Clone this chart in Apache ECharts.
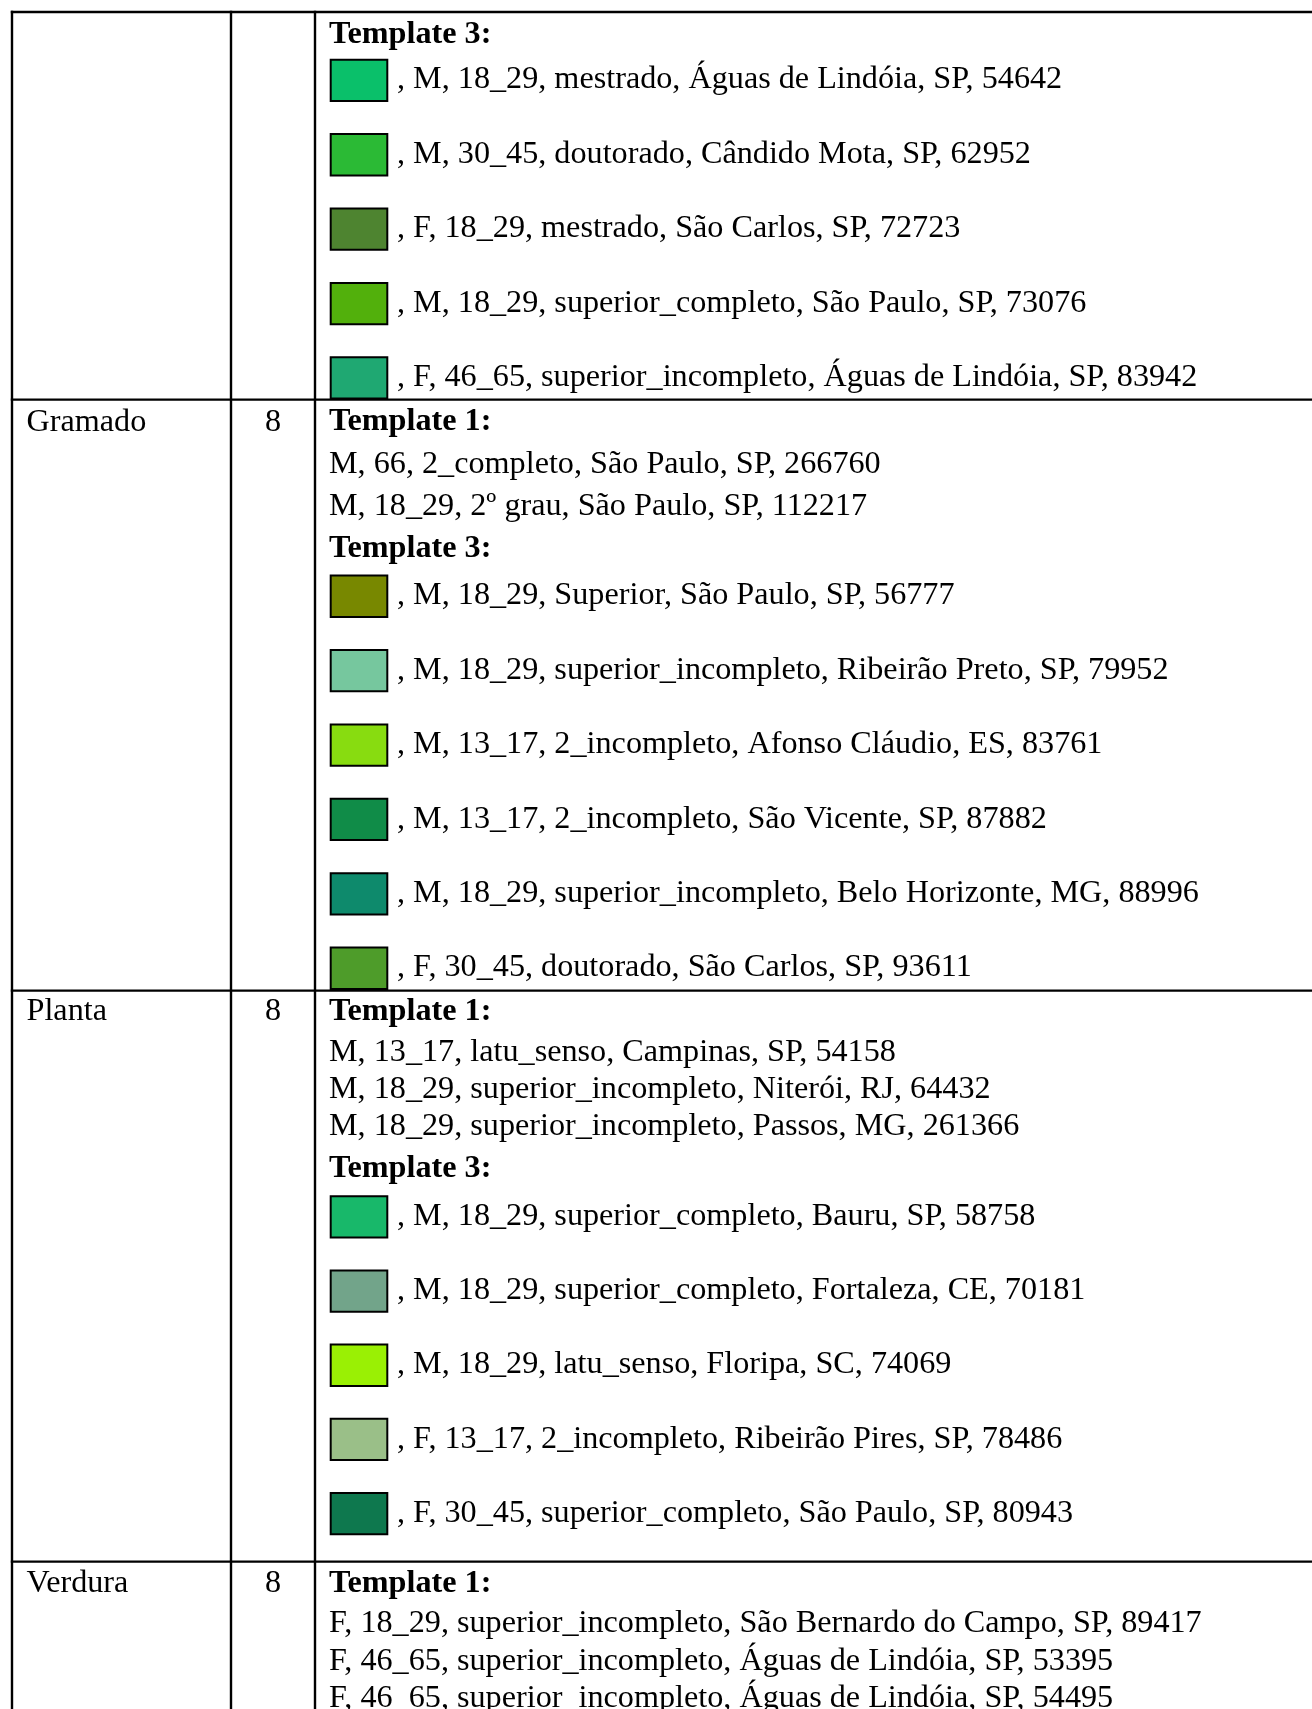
<!DOCTYPE html>
<html><head><meta charset="utf-8">
<script src="https://cdn.jsdelivr.net/npm/echarts@6/dist/echarts.min.js"></script>
<style>html,body{margin:0;padding:0;background:#fff;overflow:hidden}#c{width:1312px;height:1709px}</style>
</head><body><div id="c"></div>
<script>
// ---------------- data ----------------
const rowNames = ['', 'Gramado', 'Planta', 'Verdura'];
const rowCounts = ['', '8', '8', '8'];
const headerT1 = 'Template 1:';
const headerT3 = 'Template 3:';
const template1Rows = [
  [],
  ['M, 66, 2_completo, São Paulo, SP, 266760',
   'M, 18_29, 2º grau, São Paulo, SP, 112217'],
  ['M, 13_17, latu_senso, Campinas, SP, 54158',
   'M, 18_29, superior_incompleto, Niterói, RJ, 64432',
   'M, 18_29, superior_incompleto, Passos, MG, 261366'],
  ['F, 18_29, superior_incompleto, São Bernardo do Campo, SP, 89417',
   'F, 46_65, superior_incompleto, Águas de Lindóia, SP, 53395',
   'F, 46_65, superior_incompleto, Águas de Lindóia, SP, 54495']
];
const template3Rows = [
  [', M, 18_29, mestrado, Águas de Lindóia, SP, 54642',
   ', M, 30_45, doutorado, Cândido Mota, SP, 62952',
   ', F, 18_29, mestrado, São Carlos, SP, 72723',
   ', M, 18_29, superior_completo, São Paulo, SP, 73076',
   ', F, 46_65, superior_incompleto, Águas de Lindóia, SP, 83942'],
  [', M, 18_29, Superior, São Paulo, SP, 56777',
   ', M, 18_29, superior_incompleto, Ribeirão Preto, SP, 79952',
   ', M, 13_17, 2_incompleto, Afonso Cláudio, ES, 83761',
   ', M, 13_17, 2_incompleto, São Vicente, SP, 87882',
   ', M, 18_29, superior_incompleto, Belo Horizonte, MG, 88996',
   ', F, 30_45, doutorado, São Carlos, SP, 93611'],
  [', M, 18_29, superior_completo, Bauru, SP, 58758',
   ', M, 18_29, superior_completo, Fortaleza, CE, 70181',
   ', M, 18_29, latu_senso, Floripa, SC, 74069',
   ', F, 13_17, 2_incompleto, Ribeirão Pires, SP, 78486',
   ', F, 30_45, superior_completo, São Paulo, SP, 80943'],
  []
];
const template3Colors = [
  ['#0ac06a', '#2bba35', '#4e8430', '#52b00c', '#1fa872'],
  ['#788800', '#76c79e', '#88dc10', '#108c48', '#0e8a6c', '#4e9c2a'],
  ['#18b86a', '#72a48a', '#9af004', '#9abf88', '#0e784e'],
  []
];

// ---------------- layout constants ----------------
const W = 1312, H = 1709;
const FONT_FAMILY = '"Liberation Serif", "Times New Roman", Times, serif';
const FS = 32.2;
const MID = 8; // baseline -> middle offset
const RULE_W = 2.4;
const TABLE = { left: 12, col1: 231, col2: 315, right: 1340, top: 12, bottom: H + 20 };
const TX = { name: 26.5, count: 273, body: 329, swatch: 329.7, swatchText: 397 };
const SW = { w: 58.6, h: 43.3, text: 29.3, line: 2 };
const rhythm = [
  { head: 30.3, t1First: 0, t1Gap: 0, t3Head: 0, swFirst: 16.4, swGap: 74.4, bottom: 0 },
  { head: 30.5, t1First: 42, t1Gap: 42, t3Head: 43, swFirst: 17.5, swGap: 74.4, bottom: 0.7 },
  { head: 29, t1First: 41.4, t1Gap: 36.6, t3Head: 42.8, swFirst: 18.2, swGap: 74.2, bottom: 26.3 },
  { head: 30, t1First: 40, t1Gap: 37.5, t3Head: 43, swFirst: 18, swGap: 74.2, bottom: 26 }
];

// ---------------- build layout ----------------
const texts = [];   // {x, y, text, bold, align}
const swatches = []; // {x, y, color}
const rules = [];   // [x1,y1,x2,y2]
let rowTop = TABLE.top;
const rowTops = [];
for (let r = 0; r < rowNames.length; r++) {
  const rh = rhythm[r];
  rowTops.push(rowTop);
  let base = rowTop + rh.head;
  if (rowNames[r]) texts.push({ x: TX.name, y: base, text: rowNames[r], bold: false, align: 'left' });
  if (rowCounts[r]) texts.push({ x: TX.count, y: base, text: rowCounts[r], bold: false, align: 'center' });
  let last = base;
  let started = false;
  if (template1Rows[r].length) {
    texts.push({ x: TX.body, y: base, text: headerT1, bold: true, align: 'left' });
    started = true;
    template1Rows[r].forEach((s, i) => {
      base += (i === 0 ? rh.t1First : rh.t1Gap);
      texts.push({ x: TX.body, y: base, text: s, bold: false, align: 'left' });
    });
    last = base;
  }
  let rowBottom = last + 20;
  if (template3Rows[r].length) {
    if (started) base += rh.t3Head;
    texts.push({ x: TX.body, y: base, text: headerT3, bold: true, align: 'left' });
    template3Rows[r].forEach((s, i) => {
      const top = base + rh.swFirst + i * rh.swGap;
      swatches.push({ x: TX.swatch, y: top, color: template3Colors[r][i] });
      texts.push({ x: TX.swatchText, y: top + SW.text, text: s, bold: false, align: 'left' });
      rowBottom = top + SW.h;
    });
  }
  rowTop = rowBottom + rh.bottom;
}
rowTops.forEach(y => rules.push([TABLE.left, y, TABLE.right, y]));
[TABLE.left, TABLE.col1, TABLE.col2].forEach(x => rules.push([x, TABLE.top, x, TABLE.bottom]));

// ---------------- chart ----------------
const chart = echarts.init(document.getElementById('c'), null, { renderer: 'canvas' });
chart.setOption({
  animation: false,
  backgroundColor: '#ffffff',
  grid: { left: 0, right: 0, top: 0, bottom: 0 },
  xAxis: { type: 'value', min: 0, max: W, show: false },
  yAxis: { type: 'value', min: 0, max: H, inverse: true, show: false },
  series: [
    {
      type: 'custom', name: 'rules', clip: false, silent: true,
      encode: { x: [0, 2], y: [1, 3] },
      data: rules,
      renderItem: (params, api) => {
        const a = api.coord([api.value(0), api.value(1)]);
        const b = api.coord([api.value(2), api.value(3)]);
        return { type: 'line', shape: { x1: a[0], y1: a[1], x2: b[0], y2: b[1] },
          style: { stroke: '#000', lineWidth: RULE_W, lineCap: 'square' } };
      }
    },
    {
      type: 'custom', name: 'swatches', clip: false, silent: true,
      encode: { x: 0, y: 1 },
      data: swatches.map(s => [s.x, s.y]),
      renderItem: (params, api) => {
        const a = api.coord([api.value(0), api.value(1)]);
        const b = api.coord([api.value(0) + SW.w, api.value(1) + SW.h]);
        const lw = SW.line;
        return { type: 'rect',
          shape: { x: a[0] + lw / 2, y: a[1] + lw / 2, width: b[0] - a[0] - lw, height: b[1] - a[1] - lw },
          style: { fill: swatches[params.dataIndex].color, stroke: '#000', lineWidth: lw } };
      }
    },
    {
      type: 'custom', name: 'texts', clip: false, silent: true,
      encode: { x: 0, y: 1 },
      data: texts.map(t => [t.x, t.y]),
      renderItem: (params, api) => {
        const t = texts[params.dataIndex];
        const a = api.coord([api.value(0), api.value(1) - MID]);
        return { type: 'text', x: a[0], y: a[1],
          style: { text: t.text, fill: '#000', fontFamily: FONT_FAMILY, fontSize: FS,
            fontWeight: t.bold ? 'bold' : 'normal', align: t.align, verticalAlign: 'middle' } };
      }
    }
  ]
});
</script>
</body></html>
